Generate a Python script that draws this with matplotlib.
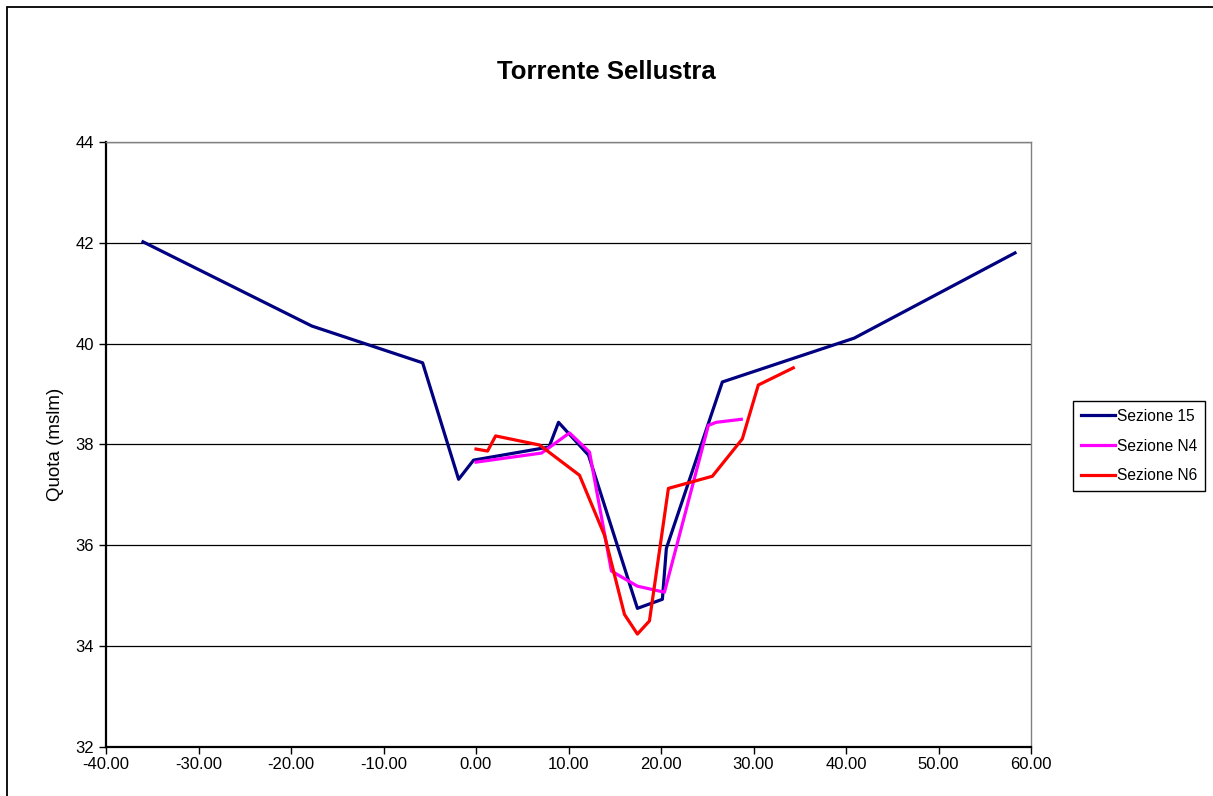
import matplotlib
matplotlib.use("Agg")
import matplotlib.pyplot as plt
from matplotlib.patches import Rectangle
from matplotlib.ticker import FormatStrFormatter

plt.rcParams['font.family'] = ['Liberation Sans', 'DejaVu Sans']

# cross sections: progressive distance (m) and elevation (m slm)
x_s15 = [-36.0, -17.75, -5.77, -1.88, -0.26, 7.9, 8.92, 12.16, 17.45, 20.15, 20.58, 26.63, 40.89, 58.27]
y_s15 = [42.02, 40.35, 39.62, 37.31, 37.69, 37.95, 38.44, 37.79, 34.75, 34.93, 35.94, 39.24, 40.11, 41.80]

x_n4 = [0.0, 7.08, 10.11, 12.27, 14.64, 17.45, 20.37, 25.12, 25.98, 28.68]
y_n4 = [37.65, 37.83, 38.23, 37.85, 35.49, 35.19, 35.07, 38.38, 38.44, 38.50]

x_n6 = [0.0, 1.25, 2.12, 6.87, 11.19, 13.89, 16.05, 17.45, 18.75, 20.80, 25.55, 28.79, 30.52, 34.30]
y_n6 = [37.91, 37.87, 38.17, 37.99, 37.39, 36.20, 34.63, 34.24, 34.50, 37.13, 37.37, 38.11, 39.18, 39.52]

fig = plt.figure(figsize=(12.13, 7.96), dpi=100)
ax = fig.add_axes([106/1213, 49/796, 925/1213, 605/796])

# outer chart frame
fig.patches.append(Rectangle((6.5/1213, -0.05), 1.2, 1 - 7/796 + 0.05,
                             transform=fig.transFigure, fill=False,
                             edgecolor='black', lw=1.3, clip_on=False))

ax.plot(x_s15, y_s15, color='#000080', lw=2.3, label='Sezione 15')
ax.plot(x_n4, y_n4, color='#FF00FF', lw=2.3, label='Sezione N4')
ax.plot(x_n6, y_n6, color='#FF0000', lw=2.3, label='Sezione N6')

ax.set_xlim(-40, 60)
ax.set_ylim(32, 44)
ax.set_xticks(range(-40, 61, 10))
ax.set_yticks(range(32, 45, 2))
ax.xaxis.set_major_formatter(FormatStrFormatter('%.2f'))
ax.yaxis.grid(True, color='black', lw=0.9)
ax.set_axisbelow(True)

for side in ('top', 'right'):
    ax.spines[side].set_color('#808080')
    ax.spines[side].set_linewidth(1)
for side in ('left', 'bottom'):
    ax.spines[side].set_linewidth(1.6)

ax.tick_params(axis='both', direction='out', length=5, width=1, labelsize=12)
ax.tick_params(axis='x', pad=2)

ax.set_ylabel('Quota (mslm)', fontsize=13.5, labelpad=8)
fig.text(606/1213, 1 - 72/796, 'Torrente Sellustra', ha='center', va='center',
         fontsize=18.5, fontweight='bold')

leg = ax.legend(loc='center left', bbox_to_anchor=(1073/1213, 1 - 446/796),
                bbox_transform=fig.transFigure, fontsize=11.2, frameon=True,
                fancybox=False, framealpha=1, edgecolor='black',
                handlelength=2.2, handletextpad=0.15, labelspacing=0.95,
                borderpad=0.5, borderaxespad=0)
leg.get_frame().set_linewidth(1)

fig.savefig('out.png', dpi=100)
